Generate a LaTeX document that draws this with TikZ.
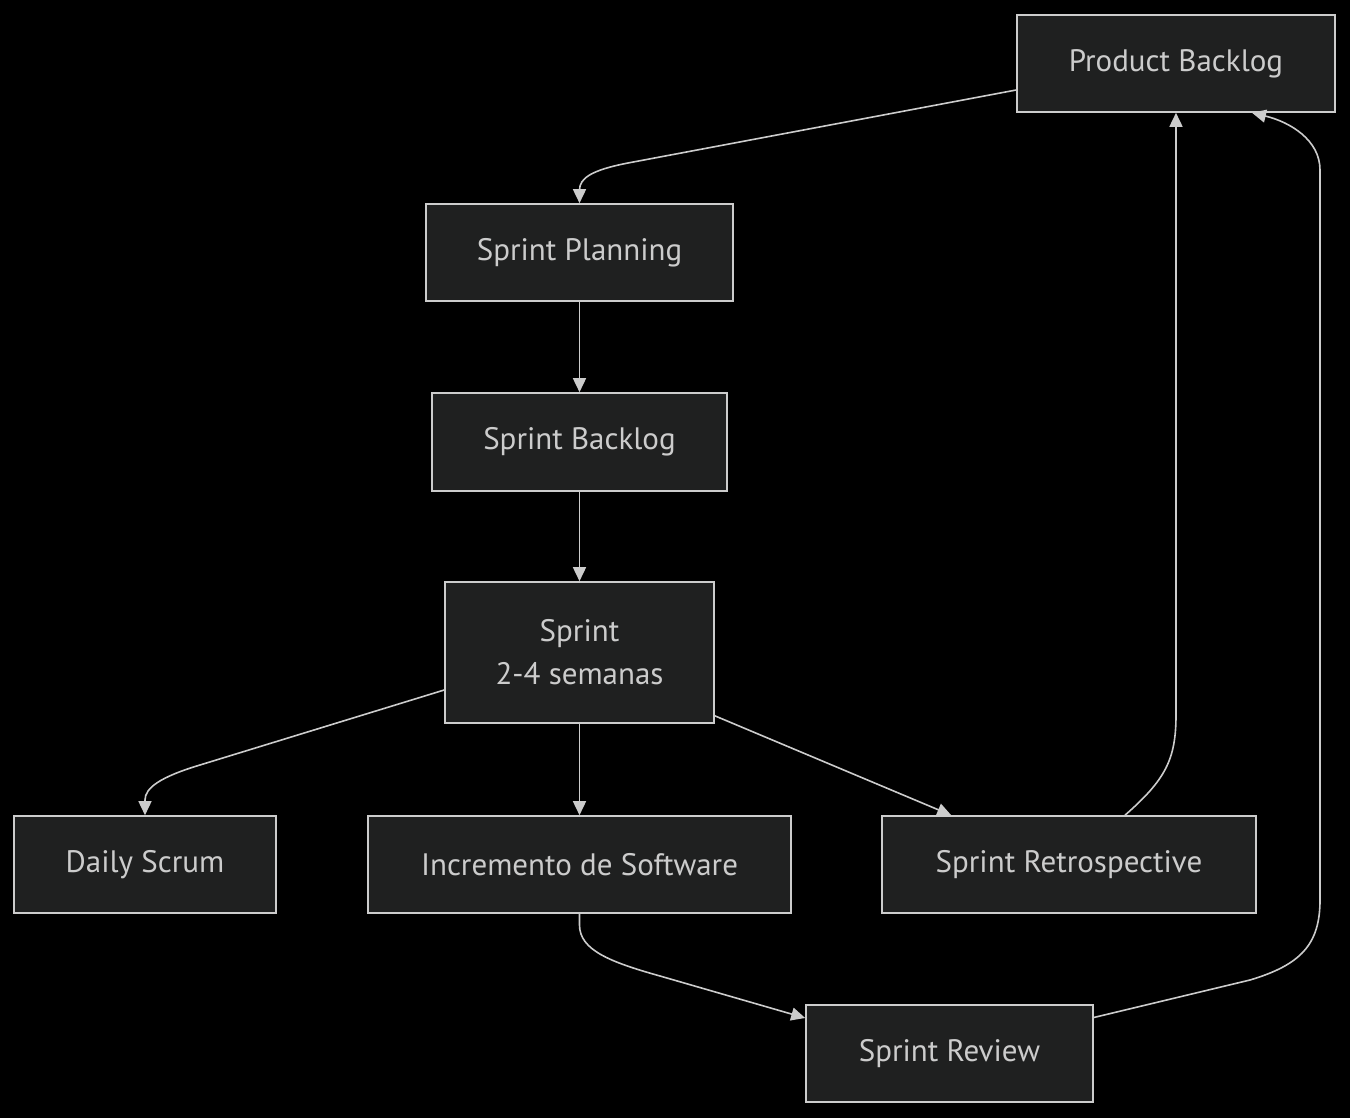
\documentclass[tikz,border=0pt]{standalone}
\usepackage{fontspec}
\setmainfont{PT Sans}
\usetikzlibrary{arrows.meta,calc}
\definecolor{nodefill}{HTML}{1F2020}
\definecolor{linegray}{HTML}{CCCCCC}
\begin{document}
\begin{tikzpicture}[x=1pt,y=-1pt,
  box/.style={draw=linegray, fill=nodefill, line width=1.6pt, text=linegray,
    font=\fontsize{31}{43}\selectfont, align=center, inner sep=0pt},
  edge/.style={draw=linegray, line width=1.6pt,
    -{Triangle[length=14pt,width=13pt]}}]
\fill[black] (0,0) rectangle (1350,1118);
\useasboundingbox (0,0) rectangle (1350,1118);

\node[box, minimum width=318pt, minimum height=97pt] (PB) at (1176,63.5) {Product Backlog};
\node[box, minimum width=307pt, minimum height=97pt] (SP) at (579.5,252.5) {Sprint Planning};
\node[box, minimum width=295pt, minimum height=98pt] (SB) at (579.5,442) {Sprint Backlog};
\node[box, minimum width=269pt, minimum height=141pt] (SPR) at (579.5,652.5) {Sprint\\2-4 semanas};
\node[box, minimum width=262pt, minimum height=97pt] (DS) at (145,864.5) {Daily Scrum};
\node[box, minimum width=423pt, minimum height=97pt] (INC) at (579.5,864.5) {Incremento de Software};
\node[box, minimum width=374pt, minimum height=97pt] (RET) at (1069,864.5) {Sprint Retrospective};
\node[box, minimum width=287pt, minimum height=97pt] (REV) at (949.5,1053.5) {Sprint Review};

\draw[edge] ($(PB.west)+(0,26.5)$) -- (628,163) .. controls (592,170) and (579.5,178) .. (579.5,190) -- (SP.north);
\draw[edge] (SP.south) -- (SB.north);
\draw[edge] (SB.south) -- (SPR.north);
\draw[edge] ($(SPR.west)+(0,37.5)$) -- (200,765) .. controls (160,777) and (145,788) .. (145,800) -- (DS.north);
\draw[edge] (SPR.south) -- (INC.north);
\draw[edge] ($(SPR.south east)+(0,-8)$) -- ($(RET.north west)+(70,0)$);
\draw[edge] ($(RET.north)+(56,0)$) .. controls (1165,780) and (1176,760) .. (1176,715) -- (PB.south);
\draw[edge] (INC.south) -- (579.5,925) .. controls (579.5,950) and (610,962) .. (660,976) -- ($(REV.west)+(0,-35.5)$);
\draw[edge] ($(REV.east)+(0,-36)$) -- (1250,980) .. controls (1300,965) and (1320,945) .. (1320,900) -- (1320,170) .. controls (1320,140) and (1290,122) .. ($(PB.south)+(76,0)$);
\end{tikzpicture}
\end{document}
